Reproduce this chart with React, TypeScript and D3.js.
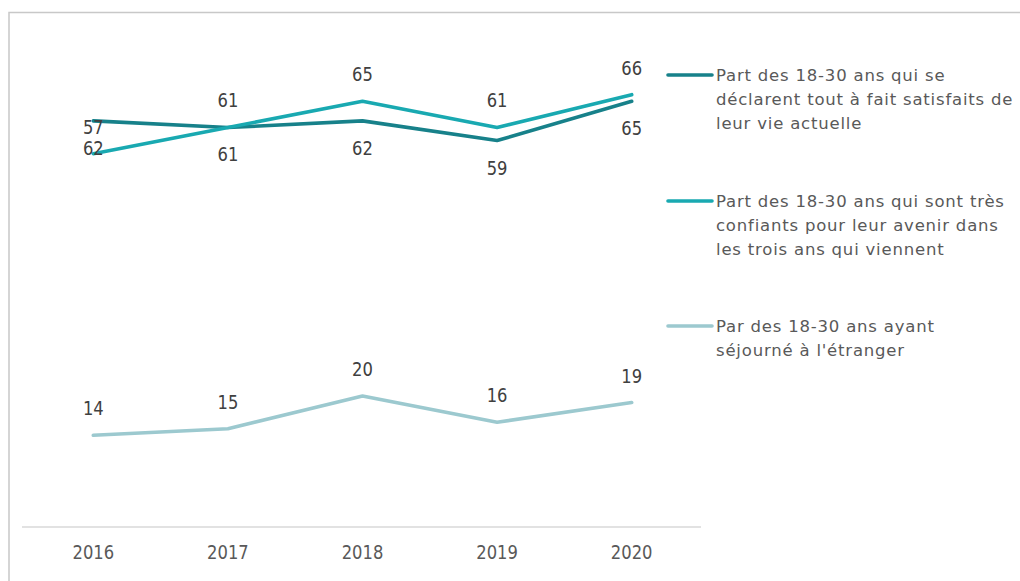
import React from "react";
import * as d3 from "d3";

const years = ["2016", "2017", "2018", "2019", "2020"];
const satisfaits = [62, 61, 62, 59, 65];
const confiants = [57, 61, 65, 61, 66];
const sejourne = [14, 15, 20, 16, 19];

const legendSatisfaits = ["Part des 18-30 ans qui se", "déclarent tout à fait satisfaits de", "leur vie actuelle"];
const legendConfiants = ["Part des 18-30 ans qui sont très", "confiants pour leur avenir dans", "les trois ans qui viennent"];
const legendSejourne = ["Par des 18-30 ans ayant", "séjourné à l'étranger"];

const W = 1020;
const H = 581;
const numFont = "'DejaVu Sans', sans-serif";
const legFont = "'DejaVu Sans', Verdana, sans-serif";

const series = [
  { name: "satisfaits", values: satisfaits, color: "#17818a", labelPos: 1, legend: legendSatisfaits, legY: 75 },
  { name: "confiants", values: confiants, color: "#19a9b1", labelPos: -1, legend: legendConfiants, legY: 201 },
  { name: "sejourne", values: sejourne, color: "#9cc9cf", labelPos: -1, legend: legendSejourne, legY: 326 },
];

function Num({ x, y, text, fill }: { x: number; y: number; text: string; fill: string }) {
  return (
    <g transform={`translate(${x},${y})`}>
      <text transform="scale(0.84,1)" textAnchor="middle" dominantBaseline="central" fontFamily={numFont} fontSize={19.5} fill={fill}>
        {text}
      </text>
    </g>
  );
}

export default function App() {
  const x = d3.scaleBand<string>().domain(years).range([26, 699]);
  const cx = (d: string) => (x(d) as number) + x.bandwidth() / 2;
  const y = d3.scaleLinear().domain([0, 80]).range([527, 3]);
  const line = d3
    .line<number>()
    .x((_, i) => cx(years[i]))
    .y((v) => y(v));

  return (
    <svg width={W} height={H} style={{ position: "absolute", left: 0, top: 0, background: "#fff" }}>
      <rect x={9} y={12.5} width={1030} height={600} fill="#fff" stroke="#c8c8c8" strokeWidth={1.5} />
      <line x1={x.range()[0] - 4} x2={x.range()[1] + 2} y1={y(0)} y2={y(0)} stroke="#d9d9d9" strokeWidth={1.5} />
      {years.map((yr) => (
        <Num key={yr} x={cx(yr)} y={552} text={yr} fill="#595959" />
      ))}
      {series.map((s) => (
        <path key={s.name} d={line(s.values) || ""} fill="none" stroke={s.color} strokeWidth={3.6} strokeLinejoin="round" strokeLinecap="round" />
      ))}
      {series.map((s) =>
        s.values.map((v, i) => (
          <Num key={s.name + i} x={cx(years[i])} y={y(v) + s.labelPos * 27} text={String(v)} fill="#404040" />
        ))
      )}
      {series.map((s) => (
        <g key={"leg" + s.name}>
          <line x1={668} x2={712} y1={s.legY} y2={s.legY} stroke={s.color} strokeWidth={3.6} strokeLinecap="round" />
          {s.legend.map((t, j) => (
            <text key={j} x={716} y={s.legY + j * 24} dominantBaseline="central" fontFamily={legFont} fontSize={16.5} letterSpacing={0.8} fill="#595959">
              {t}
            </text>
          ))}
        </g>
      ))}
    </svg>
  );
}
